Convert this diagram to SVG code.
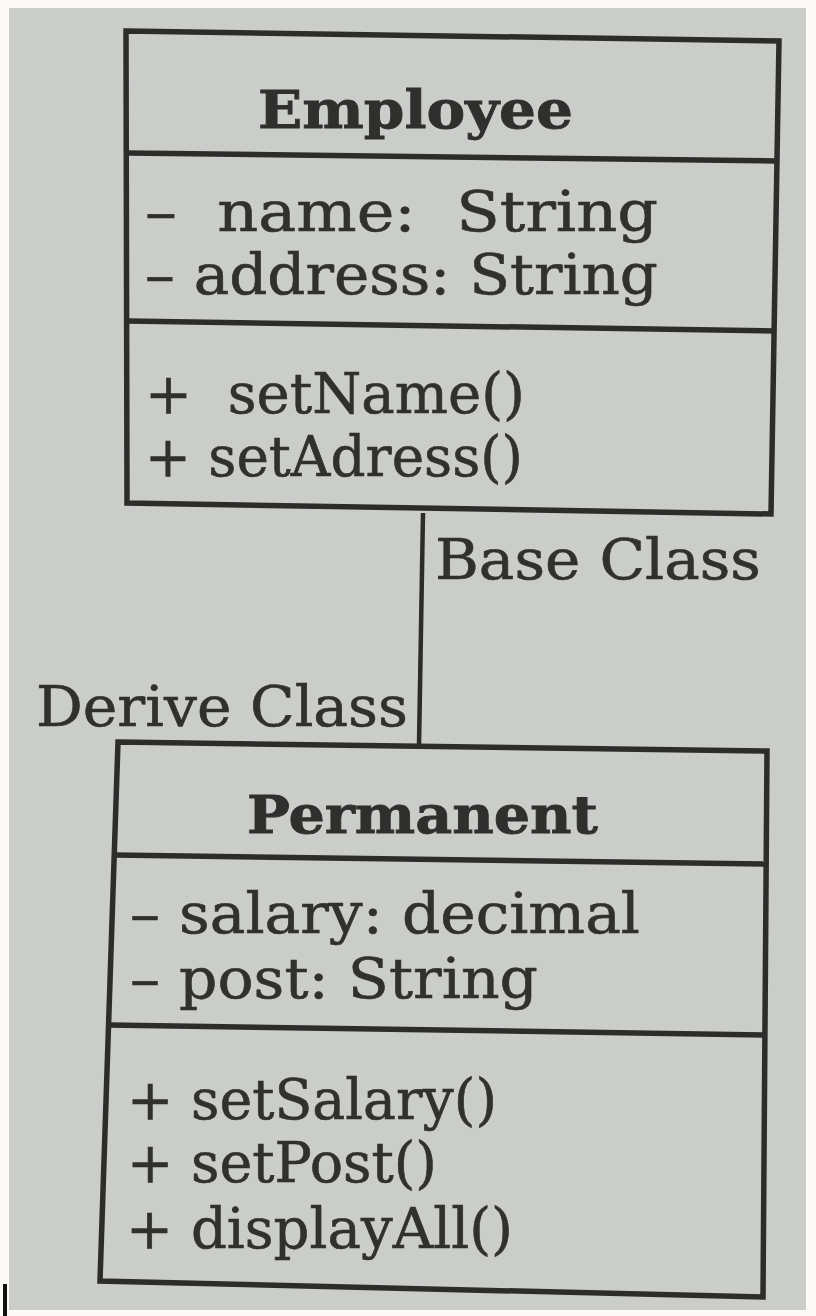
<svg xmlns="http://www.w3.org/2000/svg" width="816" height="1316" viewBox="0 0 816 1316">
  <style>
    .box { fill: none; stroke: #2c2d2b; stroke-width: 5.5; stroke-linejoin: miter; }
    .div { stroke: #2c2d2b; stroke-width: 5.5; }
    .title { font-family: "DejaVu Serif", "Liberation Serif", serif; font-weight: bold; font-size: 52px; fill: #2f302e; stroke: #2f302e; stroke-width: 0.8; }
    .txt { font-family: "DejaVu Serif", "Liberation Serif", serif; font-size: 56px; fill: #30312e; stroke: #30312e; stroke-width: 0.6; white-space: pre; }
    .conn { stroke: #2c2d2b; stroke-width: 4.5; fill: none; }
  </style>
  <rect x="0" y="0" width="816" height="1316" fill="#fbfaf6"/>
  <rect x="9" y="8" width="797" height="1302" fill="#cacdc9"/>
  <rect x="3" y="1284" width="4" height="32" fill="#111"/>

  <g id="employee">
    <polygon class="box" points="126,31 779,41 771,514 127,503"/>
    <line class="div" x1="127" y1="153" x2="777" y2="161"/>
    <line class="div" x1="128" y1="321" x2="775" y2="331"/>
    <text class="title" x="258" y="128" textLength="315" lengthAdjust="spacingAndGlyphs">Employee</text>
    <text class="txt" x="145" y="231" textLength="513" lengthAdjust="spacingAndGlyphs">–  name:  String</text>
    <text class="txt" x="145" y="294" textLength="513" lengthAdjust="spacingAndGlyphs">– address: String</text>
    <text class="txt" x="145" y="413" textLength="380" lengthAdjust="spacingAndGlyphs">+  setName()</text>
    <text class="txt" x="145" y="476" textLength="378" lengthAdjust="spacingAndGlyphs">+ setAdress()</text>
  </g>

  <g id="connectors">
    <line class="conn" x1="423" y1="513" x2="419" y2="745"/>
    <text class="txt" x="435" y="579" textLength="326" lengthAdjust="spacingAndGlyphs">Base Class</text>
    <text class="txt" x="36" y="726" textLength="372" lengthAdjust="spacingAndGlyphs">Derive Class</text>
  </g>

  <g id="permanent">
    <polygon class="box" points="118,742 767,751 763,1297 100,1281"/>
    <line class="div" x1="114" y1="855" x2="766" y2="864"/>
    <line class="div" x1="109" y1="1025" x2="764" y2="1035"/>
    <text class="title" x="247" y="833" textLength="351" lengthAdjust="spacingAndGlyphs">Permanent</text>
    <text class="txt" x="130" y="933" textLength="510" lengthAdjust="spacingAndGlyphs">– salary: decimal</text>
    <text class="txt" x="130" y="998" textLength="408" lengthAdjust="spacingAndGlyphs">– post: String</text>
    <text class="txt" x="127" y="1119" textLength="370" lengthAdjust="spacingAndGlyphs">+ setSalary()</text>
    <text class="txt" x="127" y="1182" textLength="310" lengthAdjust="spacingAndGlyphs">+ setPost()</text>
    <text class="txt" x="126" y="1248" textLength="387" lengthAdjust="spacingAndGlyphs">+ displayAll()</text>
  </g>
</svg>
